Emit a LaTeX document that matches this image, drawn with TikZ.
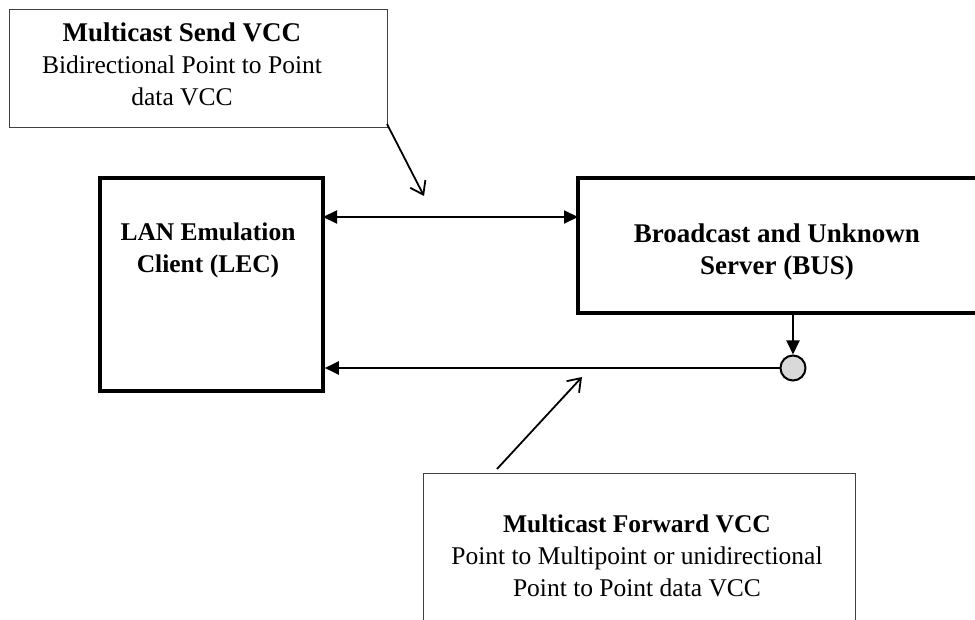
\documentclass[tikz,border=0pt]{standalone}
\usepackage{fontspec}
\setmainfont{Liberation Serif}
\usetikzlibrary{arrows.meta}
\begin{document}
\begin{tikzpicture}[x=1pt,y=-1pt,
  thickbox/.style={draw=black,line width=3.6pt,inner sep=0pt},
  thinbox/.style={draw=black!75,line width=1pt,inner sep=0pt},
  txt/.style={font=\fontsize{25.5}{32}\selectfont,align=center,inner sep=0pt},
  big/.style={font=\fontsize{27}{32}\selectfont},
  conn/.style={line width=2pt,-{Triangle[length=14pt,width=13pt]}},
  call/.style={line width=1.8pt,-{Straight Barb[length=12pt,width=17pt]}}]
\useasboundingbox (0,0) rectangle (975,620);
\clip (0,0) rectangle (975,620);
% boxes
\node[thinbox,minimum width=378pt,minimum height=118pt] (sendbox) at (198,69) {};
\node[thickbox,minimum width=223pt,minimum height=213pt] (lec) at (211.5,284.5) {};
\node[thickbox,minimum width=420pt,minimum height=135pt] (bus) at (788,245.5) {};
\node[thinbox,minimum width=432pt,minimum height=180pt] (fwdbox) at (639,563) {};
% texts
\node[txt] (sendtxt) at (182,64) {{\fontsize{27}{32}\selectfont\textbf{Multicast Send VCC}}\\Bidirectional Point to Point\\data VCC};
\node[txt] (lectxt) at (208,250) {\textbf{LAN Emulation}\\\textbf{Client (LEC)}};
\node[txt,big] (bustxt) at (777,252) {\textbf{Broadcast and Unknown}\\\textbf{Server (BUS)}};
\node[txt] (fwdtxt) at (637,556) {\textbf{Multicast Forward VCC}\\Point to Multipoint or unidirectional\\Point to Point data VCC};
% circle
\node[circle,draw=black,line width=2pt,fill=black!15,minimum size=25pt,inner sep=0pt] (c) at (793,368) {};
% connectors
\coordinate (lt) at (323,217);
\coordinate (bt) at (578,217);
\draw[conn,{Triangle[length=14pt,width=13pt]}-{Triangle[length=14pt,width=13pt]}] (lt) -- (bt);
\draw[conn] (bus.south -| c) -- (c.north);
\draw[conn] (c.west) -- (c.west -| lec.east);
% callouts
\coordinate (s1) at (387,124);
\coordinate (s2) at (424,196);
\draw[call] (s1) -- (s2);
\coordinate (f1) at (497,469);
\coordinate (f2) at (582,377);
\draw[call] (f1) -- (f2);
\end{tikzpicture}
\end{document}
